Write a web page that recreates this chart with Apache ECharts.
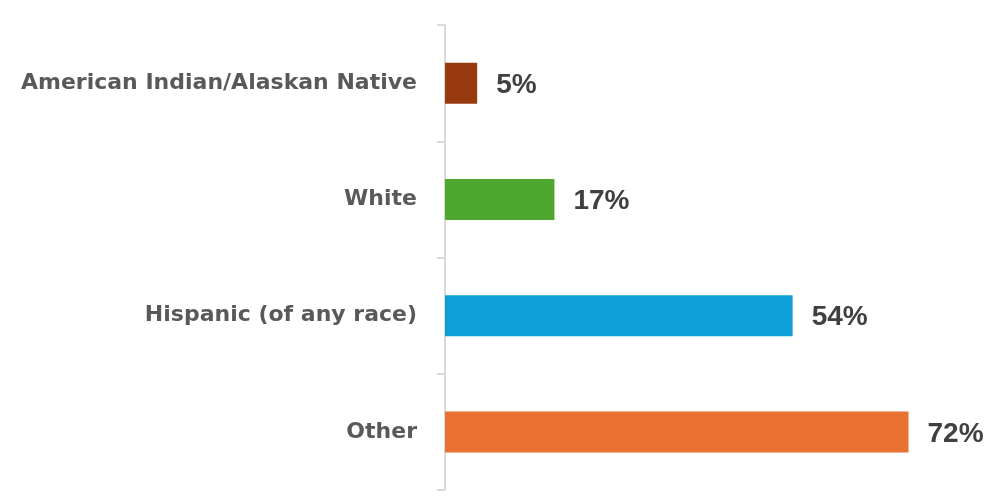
<!DOCTYPE html>
<html>
<head>
<meta charset="utf-8">
<script src="https://cdn.jsdelivr.net/npm/echarts@6/dist/echarts.min.js"></script>
<style>
  html, body { margin: 0; padding: 0; background: #fff; }
  #chart { width: 986px; height: 501px; }
</style>
</head>
<body>
<div id="chart"></div>
<script>
var categories = ['American Indian/Alaskan Native', 'White', 'Hispanic (of any race)', 'Other'];
var values = [5, 17, 54, 72];
var colors = ['#983A10', '#4EA72E', '#0F9ED5', '#E97132'];

var chart = echarts.init(document.getElementById('chart'));
var option = {
    animation: false,
    grid: {
        left: 445,
        right: 26,
        top: 25,
        bottom: 11
    },
    xAxis: {
        type: 'value',
        min: 0,
        max: 80,
        show: false
    },
    yAxis: {
        type: 'category',
        inverse: true,
        data: categories,
        axisLine: { show: true, lineStyle: { color: '#d9d9d9', width: 2 } },
        axisTick: { show: true, length: 8, lineStyle: { color: '#d9d9d9', width: 2 } },
        axisLabel: {
            margin: 28,
            color: '#595959',
            fontFamily: 'DejaVu Sans',
            fontWeight: 'bold',
            fontSize: 22
        }
    },
    series: [{
        type: 'bar',
        barWidth: 41,
        data: values.map(function (v, i) {
            return { value: v, itemStyle: { color: colors[i] } };
        }),
        label: {
            show: true,
            position: 'right',
            distance: 19,
            offset: [0, 2],
            formatter: '{c}%',
            color: '#404040',
            fontFamily: 'Liberation Sans',
            fontWeight: 'bold',
            fontSize: 28
        }
    }]
};
chart.setOption(option);
window.onresize = function () {
    chart.resize();
};
</script>
</body>
</html>
